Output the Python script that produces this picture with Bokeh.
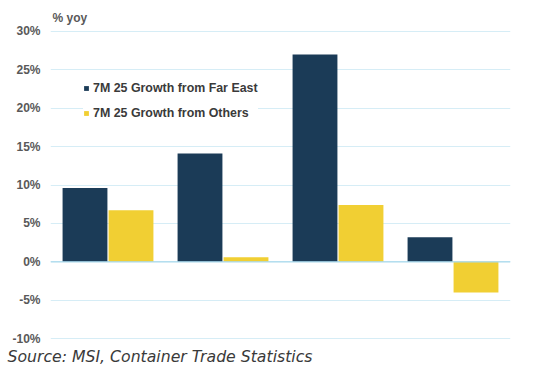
from bokeh.plotting import figure
from bokeh.models import (ColumnDataSource, Legend, LegendItem, PrintfTickFormatter,
                          FixedTicker, Span, Title, Range1d)
from bokeh.embed import file_html
from bokeh.resources import INLINE

categories = ["Group 1", "Group 2", "Group 3", "Group 4"]
far_east = [9.6, 14.1, 27.0, 3.2]
others = [6.7, 0.6, 7.4, -4.0]
y_ticks = [-10, -5, 0, 5, 10, 15, 20, 25, 30]

DARK = "#1b3b57"
YELLOW = "#f1cf33"
FONT = "Liberation Sans"

x_center = [i + 0.5 for i in range(len(categories))]
src = ColumnDataSource(dict(
    cat=categories,
    x_fe=[c - 0.2 for c in x_center],
    x_ot=[c + 0.2 for c in x_center],
    fe=far_east,
    ot=others,
))

p = figure(width=555, height=373, output_backend="svg", toolbar_location=None,
           x_range=Range1d(0, 4), y_range=Range1d(-10.5, 30.5),
           min_border_left=50, min_border_right=45, min_border_top=27, min_border_bottom=31)
p.outline_line_color = None
p.background_fill_color = "white"
p.border_fill_color = "white"

r1 = p.vbar(x="x_fe", top="fe", bottom=0, width=0.39, source=src, color=DARK, line_color=None)
r2 = p.vbar(x="x_ot", top="ot", bottom=0, width=0.39, source=src, color=YELLOW, line_color=None)

p.xaxis.visible = False
p.xgrid.grid_line_color = None
p.ygrid.grid_line_color = "#d6edf6"
p.ygrid.grid_line_width = 1

zero = Span(location=0, dimension="width", line_color="#a9d9ec", line_width=1.2)
p.add_layout(zero)

ax = p.yaxis[0]
ax.ticker = FixedTicker(ticks=y_ticks)
ax.formatter = PrintfTickFormatter(format="%d%%")
ax.axis_line_color = None
ax.major_tick_line_color = None
ax.minor_tick_line_color = None
ax.major_tick_out = 0
ax.major_tick_in = 0
ax.minor_tick_out = 0
ax.major_label_text_font = FONT
ax.major_label_text_font_style = "bold"
ax.major_label_text_font_size = "12px"
ax.major_label_text_color = "#595959"
ax.major_label_standoff = 10

legend = Legend(items=[LegendItem(label="7M 25 Growth from Far East", renderers=[r1]),
                       LegendItem(label="7M 25 Growth from Others", renderers=[r2])],
                location=(33, 219), orientation="vertical")
legend.glyph_width = 6
legend.glyph_height = 6
legend.label_standoff = 4
legend.label_height = 20
legend.spacing = 5
legend.padding = 4
legend.margin = 0
legend.border_line_color = None
legend.background_fill_color = "white"
legend.background_fill_alpha = 1
legend.label_text_font = FONT
legend.label_text_font_style = "bold"
legend.label_text_font_size = "12.4px"
legend.label_text_color = "#3a3a3a"
p.add_layout(legend, "center")

t = Title(text="% yoy", align="left", text_font=FONT, text_font_style="bold",
          text_font_size="12px", text_color="#595959", offset=2, standoff=6)
p.add_layout(t, "above")

s = Title(text="Source: MSI, Container Trade Statistics", align="left", text_font="DejaVu Sans",
          text_font_style="italic", text_font_size="15.7px", text_color="#3a3a3a", offset=-43, standoff=5)
p.add_layout(s, "below")

open("out.html", "w").write(file_html(p, INLINE))
